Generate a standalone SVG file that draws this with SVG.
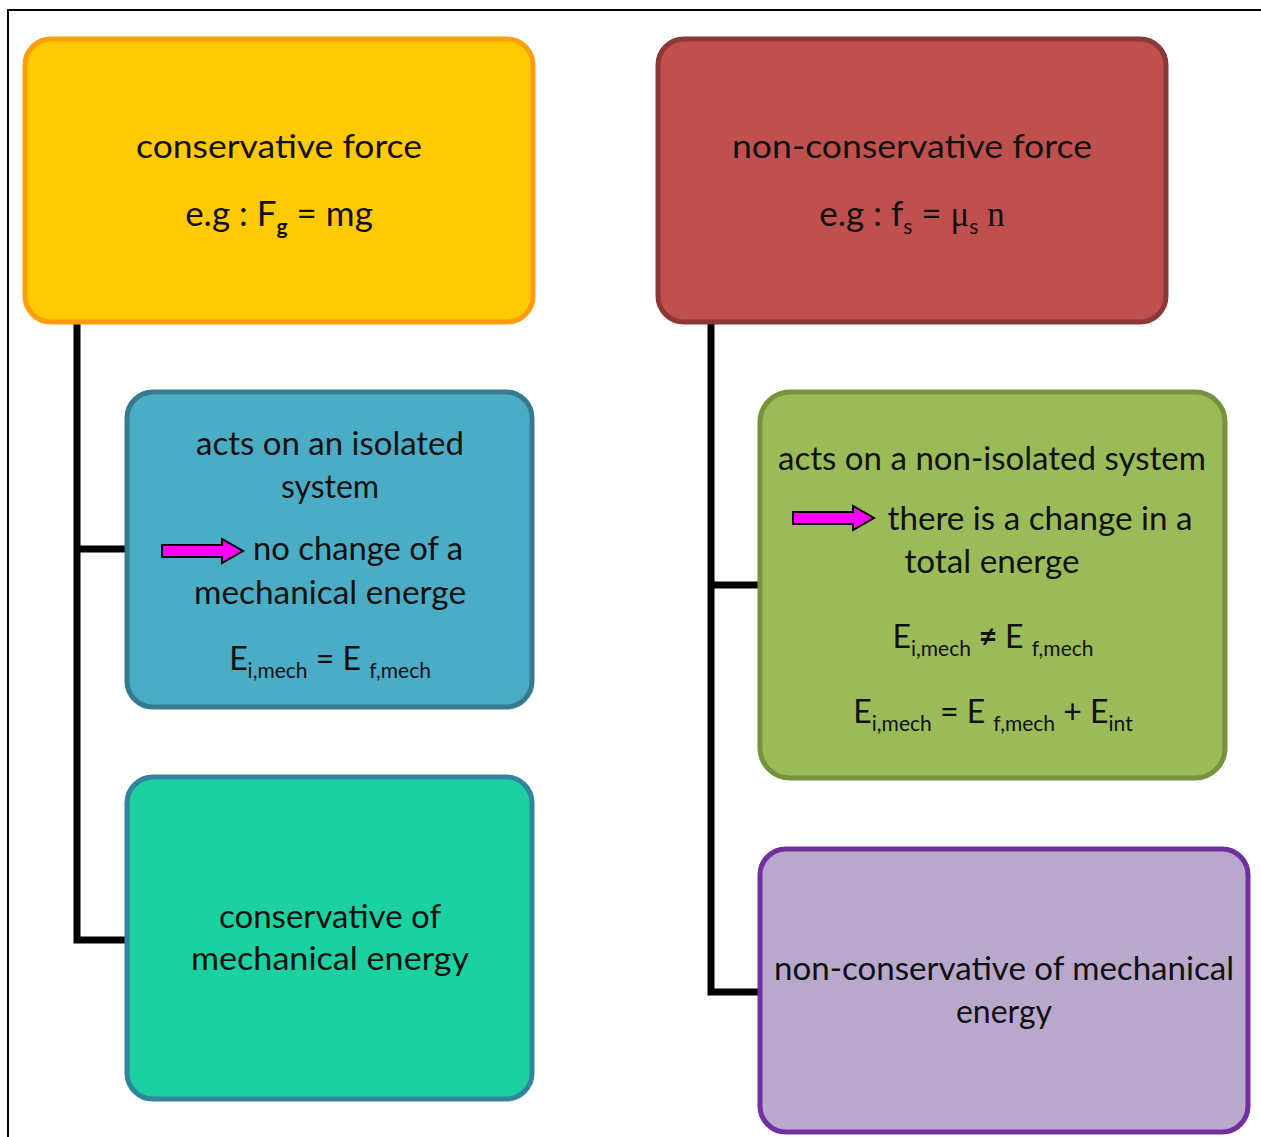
<svg xmlns="http://www.w3.org/2000/svg" width="1261" height="1137" viewBox="0 0 1261 1137">
<style>
text{font-family:Lato,"Open Sans","Liberation Sans",sans-serif;font-size:32px;fill:#111;text-anchor:middle}
.eg{font-size:35px}
.sub{font-size:21px}
.serif{font-family:"Liberation Serif","DejaVu Serif",serif}
.box{stroke-width:5}
.conn{stroke:#000;stroke-width:7;fill:none;stroke-linejoin:miter}
.arrow{fill:#ff00ff;stroke:#000;stroke-width:2}
</style>
<rect x="0" y="0" width="1261" height="1137" fill="#fff"/>
<rect x="8" y="10" width="1270" height="1140" fill="none" stroke="#000" stroke-width="2"/>
<g id="connectors">
<path class="conn" d="M77 323 V940 H126 M77 549 H126"/>
<path class="conn" d="M711 323 V992 H759 M711 585 H759"/>
</g>
<g id="conservative-force">
<rect class="box" x="25" y="39" width="508" height="283" rx="26" fill="#ffca00" stroke="#ff9d0a"/>
<text x="279" y="158" textLength="286" lengthAdjust="spacingAndGlyphs">conservative force</text>
<text class="eg" x="279" y="226">e.g : F<tspan class="sub" dy="8" font-weight="bold">g</tspan><tspan dy="-8"> = mg</tspan></text>
</g>
<g id="non-conservative-force">
<rect class="box" x="658" y="39" width="508" height="283" rx="26" fill="#c0504d" stroke="#8c3836"/>
<text x="912" y="158" textLength="360" lengthAdjust="spacingAndGlyphs">non-conservative force</text>
<text class="eg" x="912" y="226">e.g : f<tspan class="sub" dy="8">s</tspan><tspan dy="-8"> = </tspan><tspan class="serif">μ</tspan><tspan class="sub" dy="8">s</tspan><tspan class="serif" dy="-8"> n</tspan></text>
</g>
<g id="isolated-system">
<rect class="box" x="127" y="392" width="405" height="315" rx="26" fill="#4bacc6" stroke="#357b90"/>
<text x="330" y="455" textLength="268" lengthAdjust="spacingAndGlyphs">acts on an isolated</text>
<text x="330" y="498">system</text>
<path class="arrow" d="M162 545 H222 V539 L243 551 L222 563 V557 H162 Z"/>
<text x="358" y="560" textLength="210" lengthAdjust="spacingAndGlyphs">no change of a</text>
<text x="330" y="604" textLength="272" lengthAdjust="spacingAndGlyphs">mechanical energe</text>
<text x="330" y="670">E<tspan class="sub" dy="8">i,mech</tspan><tspan dy="-8"> = E </tspan><tspan class="sub" dy="8">f,mech</tspan></text>
</g>
<g id="non-isolated-system">
<rect class="box" x="760" y="392" width="465" height="386" rx="30" fill="#9bbb59" stroke="#76923c"/>
<text x="992" y="470" textLength="428" lengthAdjust="spacingAndGlyphs">acts on a non-isolated system</text>
<path class="arrow" d="M793 512 H853 V506 L874 518 L853 530 V524 H793 Z"/>
<text x="1040" y="530" textLength="305" lengthAdjust="spacingAndGlyphs">there is a change in a</text>
<text x="992" y="573" textLength="175" lengthAdjust="spacingAndGlyphs">total energe</text>
<text x="993" y="648">E<tspan class="sub" dy="8">i,mech</tspan><tspan dy="-8" font-weight="bold"> ≠ </tspan><tspan dy="0">E </tspan><tspan class="sub" dy="8">f,mech</tspan></text>
<text x="993" y="723">E<tspan class="sub" dy="8">i,mech</tspan><tspan dy="-8"> = E </tspan><tspan class="sub" dy="8">f,mech</tspan><tspan dy="-8"> + E</tspan><tspan class="sub" dy="8">int</tspan></text>
</g>
<g id="conservation">
<rect class="box" x="127" y="777" width="405" height="322" rx="26" fill="#1cd1a1" stroke="#31849b"/>
<text x="330" y="928" textLength="222" lengthAdjust="spacingAndGlyphs">conservative of</text>
<text x="330" y="970" textLength="278" lengthAdjust="spacingAndGlyphs">mechanical  energy</text>
</g>
<g id="non-conservation">
<rect class="box" x="760" y="849" width="488" height="283" rx="26" fill="#b8a8cb" stroke="#7030a0"/>
<text x="1004" y="980" textLength="460" lengthAdjust="spacingAndGlyphs">non-conservative of mechanical</text>
<text x="1004" y="1023">energy</text>
</g>
</svg>
